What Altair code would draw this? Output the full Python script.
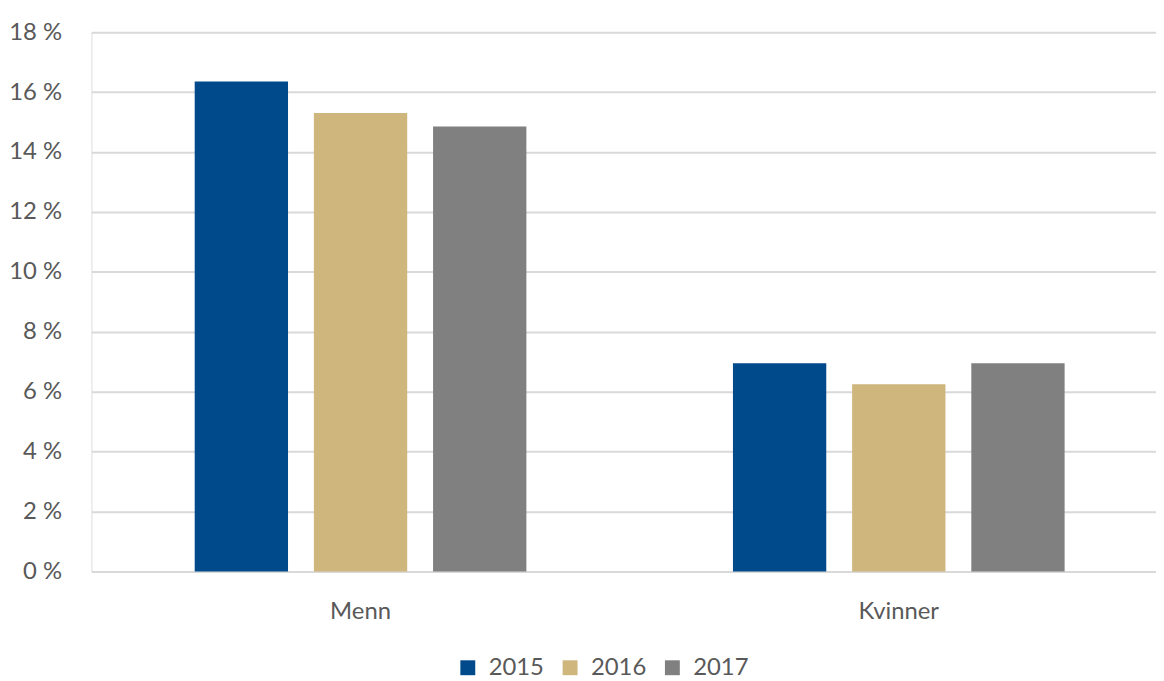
import altair as alt
import pandas as pd

groups = ["Menn", "Kvinner"]
years = ["2015", "2016", "2017"]
menn = [16.35, 15.3, 14.85]
kvinner = [6.95, 6.25, 6.95]
colors = ["#004A8B", "#CEB67C", "#808080"]
y_ticks = [0, 2, 4, 6, 8, 10, 12, 14, 16, 18]

rows = []
for g, vals in zip(groups, [menn, kvinner]):
    for yr, v in zip(years, vals):
        rows.append({"gruppe": g, "år": yr, "verdi": v})
df = pd.DataFrame(rows)

FONT = "Lato"

chart = alt.Chart(df).mark_bar().encode(
    x=alt.X("gruppe:N", sort=groups, title=None,
            scale=alt.Scale(paddingInner=0.3838, paddingOuter=0.1919),
            axis=alt.Axis(labelAngle=0, ticks=False, domain=False, labelPadding=28,
                          labelFontSize=24, labelColor="#595959", labelFont=FONT)),
    xOffset=alt.XOffset("år:N", sort=years, scale=alt.Scale(paddingInner=0.217, paddingOuter=0)),
    y=alt.Y("verdi:Q", title=None,
            scale=alt.Scale(domain=[0, 18], nice=False),
            axis=alt.Axis(values=y_ticks, labelExpr="datum.value + ' %'", ticks=False, domain=False,
                          labelPadding=30, labelFontSize=24, labelColor="#595959", labelFont=FONT,
                          gridColor="#D9D9D9", gridWidth=2)),
    color=alt.Color("år:N", sort=years, scale=alt.Scale(domain=years, range=colors),
                    legend=alt.Legend(title=None, orient="none", direction="horizontal",
                                      legendX=367, legendY=628, symbolType="square", symbolSize=225,
                                      symbolStrokeWidth=0, labelFontSize=24, labelColor="#595959",
                                      labelFont=FONT, labelOffset=9, columnPadding=14)),
).properties(
    width=1084, height=543,
    autosize=alt.AutoSizeParams(type="none"),
    padding={"left": 84, "top": 22, "right": -12, "bottom": 108},
).configure_view(stroke=None).configure(background="white")

chart.save("out.html", embed_options={"renderer": "svg", "actions": False})
